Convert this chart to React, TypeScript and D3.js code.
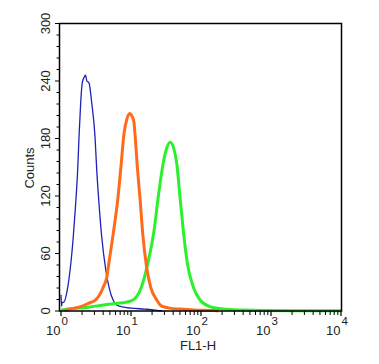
import * as d3 from "d3";

// FL1-H channel values and counts
const blueFL1 = [1.0, 1.02, 1.04, 1.08, 1.25, 1.35, 1.5, 1.62, 1.73, 1.81, 1.91, 2.01, 2.14, 2.24, 2.34, 2.51, 2.75, 3.06, 3.24, 3.49, 3.81, 4.36, 4.85, 5.58, 6.31, 7.94, 10, 15.8, 22.4, 28.2];
const blueCounts = [17, 5, 9, 9, 25, 43, 78, 112, 147, 182, 217, 238, 244, 246, 240, 238, 217, 182, 147, 112, 78, 43, 25, 11, 6, 4, 3, 2, 1, 0];

const orangeFL1 = [1.12, 1.26, 1.58, 2.0, 2.45, 3.06, 3.81, 4.02, 4.5, 4.74, 5.58, 6.46, 7.19, 7.94, 8.71, 9.55, 10.0, 10.96, 11.4, 12.3, 13.5, 14.7, 16.7, 19.1, 23.3, 27.5, 35.5, 50, 79, 158, 178];
const orangeCounts = [0, 1.5, 3, 5, 8, 11, 21, 25, 35, 46, 81, 116, 151, 185, 200, 206, 205, 198, 185, 151, 116, 81, 46, 25, 11.5, 5, 3, 2, 1, 0.5, 0];

const greenFL1 = [1.0, 1.26, 2.45, 4.27, 6.31, 8.32, 10.7, 14.1, 17.4, 21.4, 24.5, 28.8, 32.4, 36.3, 40.7, 45.0, 50.1, 55.8, 63.7, 77.6, 96.8, 135, 204, 398, 794, 1995, 10000];
const greenCounts = [1, 2, 4, 6.5, 8, 9, 11.5, 25, 50, 84.5, 119, 154, 170, 176, 170, 154, 119, 84.5, 50, 25, 11.5, 4.5, 2, 1, 0.5, 0.3, 0.3];

const yTicks = [0, 60, 120, 180, 240, 300];
const xDecades = [0, 1, 2, 3, 4];

const W = 379;
const H = 364;
const font = "'Liberation Sans', Arial, sans-serif";

export default function App() {
  const x = d3.scaleLog().domain([1, 10000]).range([61, 341]);
  const y = d3.scaleLinear().domain([0, 300]).range([311, 23.5]);

  const line = d3
    .line<[number, number]>()
    .x((d) => x(d[0]))
    .y((d) => y(d[1]))
    .curve(d3.curveMonotoneX);

  const series = [
    { fl1: blueFL1, counts: blueCounts, color: "#1e22b8", width: 1.3 },
    { fl1: greenFL1, counts: greenCounts, color: "#2cf02c", width: 3 },
    { fl1: orangeFL1, counts: orangeCounts, color: "#ff6b1a", width: 3 },
  ];

  const minorX: number[] = [];
  xDecades.slice(0, -1).forEach((e) => {
    for (let k = 2; k <= 9; k++) minorX.push(k * Math.pow(10, e));
  });
  const minorY = d3.range(0, 301, 12).filter((v) => v % 60 !== 0);

  return (
    <svg width={W} height={H} style={{ position: "absolute", left: 0, top: 0, background: "#fff" }}>
      {series.map((s, i) => (
        <path
          key={i}
          d={line(s.fl1.map((v, j) => [v, s.counts[j]] as [number, number])) || ""}
          fill="none"
          stroke={s.color}
          strokeWidth={s.width}
          strokeLinejoin="round"
        />
      ))}

      <rect x={59.5} y={23.5} width={282} height={287.5} fill="none" stroke="#000" strokeWidth={1.5} />

      {/* y ticks */}
      {yTicks.map((t) => (
        <g key={t}>
          <line x1={55} x2={59.5} y1={y(t)} y2={y(t)} stroke="#000" strokeWidth={1} />
          <text
            transform={`translate(49.5,${y(t)}) rotate(-90)`}
            textAnchor="middle"
            fontFamily={font}
            fontSize={13}
            fill="#222"
          >
            {t}
          </text>
        </g>
      ))}
      {minorY.map((t) => (
        <line key={t} x1={56.5} x2={59.5} y1={y(t)} y2={y(t)} stroke="#000" strokeWidth={1} />
      ))}
      <text
        transform={`translate(33.5,168) rotate(-90)`}
        textAnchor="middle"
        fontFamily={font}
        fontSize={13}
        fill="#222"
      >
        Counts
      </text>

      {/* x ticks */}
      {xDecades.map((e) => (
        <g key={e}>
          <line x1={x(Math.pow(10, e))} x2={x(Math.pow(10, e))} y1={311} y2={316} stroke="#000" strokeWidth={1.2} />
          <text x={x(Math.pow(10, e)) - 0.5} y={335} textAnchor="end" fontFamily={font} fontSize={13} fill="#222">
            10
          </text>
          <text x={x(Math.pow(10, e)) + 0.5} y={325} textAnchor="start" fontFamily={font} fontSize={11.5} fill="#222">
            {e}
          </text>
        </g>
      ))}
      {minorX.map((v) => (
        <line key={v} x1={x(v)} x2={x(v)} y1={311} y2={315} stroke="#000" strokeWidth={1} />
      ))}
      <text x={198} y={350} textAnchor="middle" fontFamily={font} fontSize={13} fill="#222">
        FL1-H
      </text>
    </svg>
  );
}
